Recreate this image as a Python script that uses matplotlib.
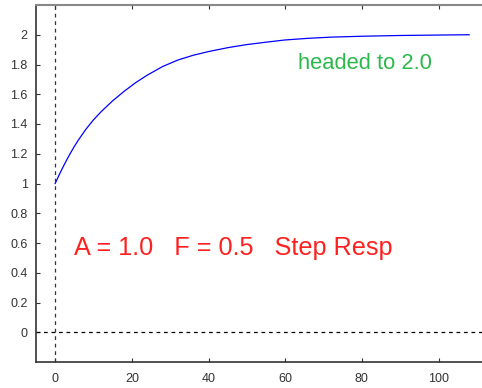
import matplotlib.pyplot as plt
from matplotlib.ticker import FuncFormatter

# values
t = [0, 1, 2, 3, 4, 5, 6, 8, 10, 12, 15, 18, 21, 24, 28, 32, 36, 40,
     45, 50, 55, 60, 66, 72, 80, 90, 100, 108]
y = [1.000, 1.056, 1.108, 1.158, 1.205, 1.249, 1.290, 1.364, 1.428,
     1.483, 1.556, 1.620, 1.678, 1.728, 1.786, 1.830, 1.862, 1.887,
     1.913, 1.934, 1.950, 1.965, 1.976, 1.984, 1.990, 1.995, 1.998,
     2.000]
x_ticks = [0, 20, 40, 60, 80, 100]
y_ticks = [0, 0.2, 0.4, 0.6, 0.8, 1, 1.2, 1.4, 1.6, 1.8, 2]

plt.rcParams['font.family'] = ['Liberation Sans', 'DejaVu Sans']

fig = plt.figure(figsize=(4.82, 3.88), dpi=100)
W, H = 482, 388
# axes runs a little past the right edge of the picture
ax = fig.add_axes([36 / W, 26 / H, 460 / W, 357 / H])

ax.plot(t, y, color='#0000ff', linewidth=0.9)
ax.axvline(0, color='#333333', linestyle=(0, (3, 3)), linewidth=0.9)
ax.axhline(0, color='black', linestyle=(0, (3, 3)), linewidth=0.9)

ax.set_xlim(-5, 115)
ax.set_ylim(-0.2, 2.2)
ax.set_xticks(x_ticks)
ax.set_yticks(y_ticks)
ax.yaxis.set_major_formatter(FuncFormatter(lambda v, p: '%g' % v))
ax.tick_params(direction='in', length=3, labelsize=9, colors='#333333',
               top=True, right=True, pad=6)
ax.tick_params(axis='x', pad=8)

for side in ['left', 'bottom']:
    ax.spines[side].set_color('#333333')
    ax.spines[side].set_linewidth(1.2)
ax.spines['top'].set_color('#888888')
ax.spines['top'].set_linewidth(1.5)

ax.text(63.4, 1.81, 'headed to 2.0', color='#2db84d', fontsize=15.8,
        va='center', ha='left')
ax.text(5, 0.564, 'A = 1.0   F = 0.5   Step Resp', color='#ff2020',
        fontsize=18.2, va='center', ha='left')

fig.savefig('out.png', dpi=100)
